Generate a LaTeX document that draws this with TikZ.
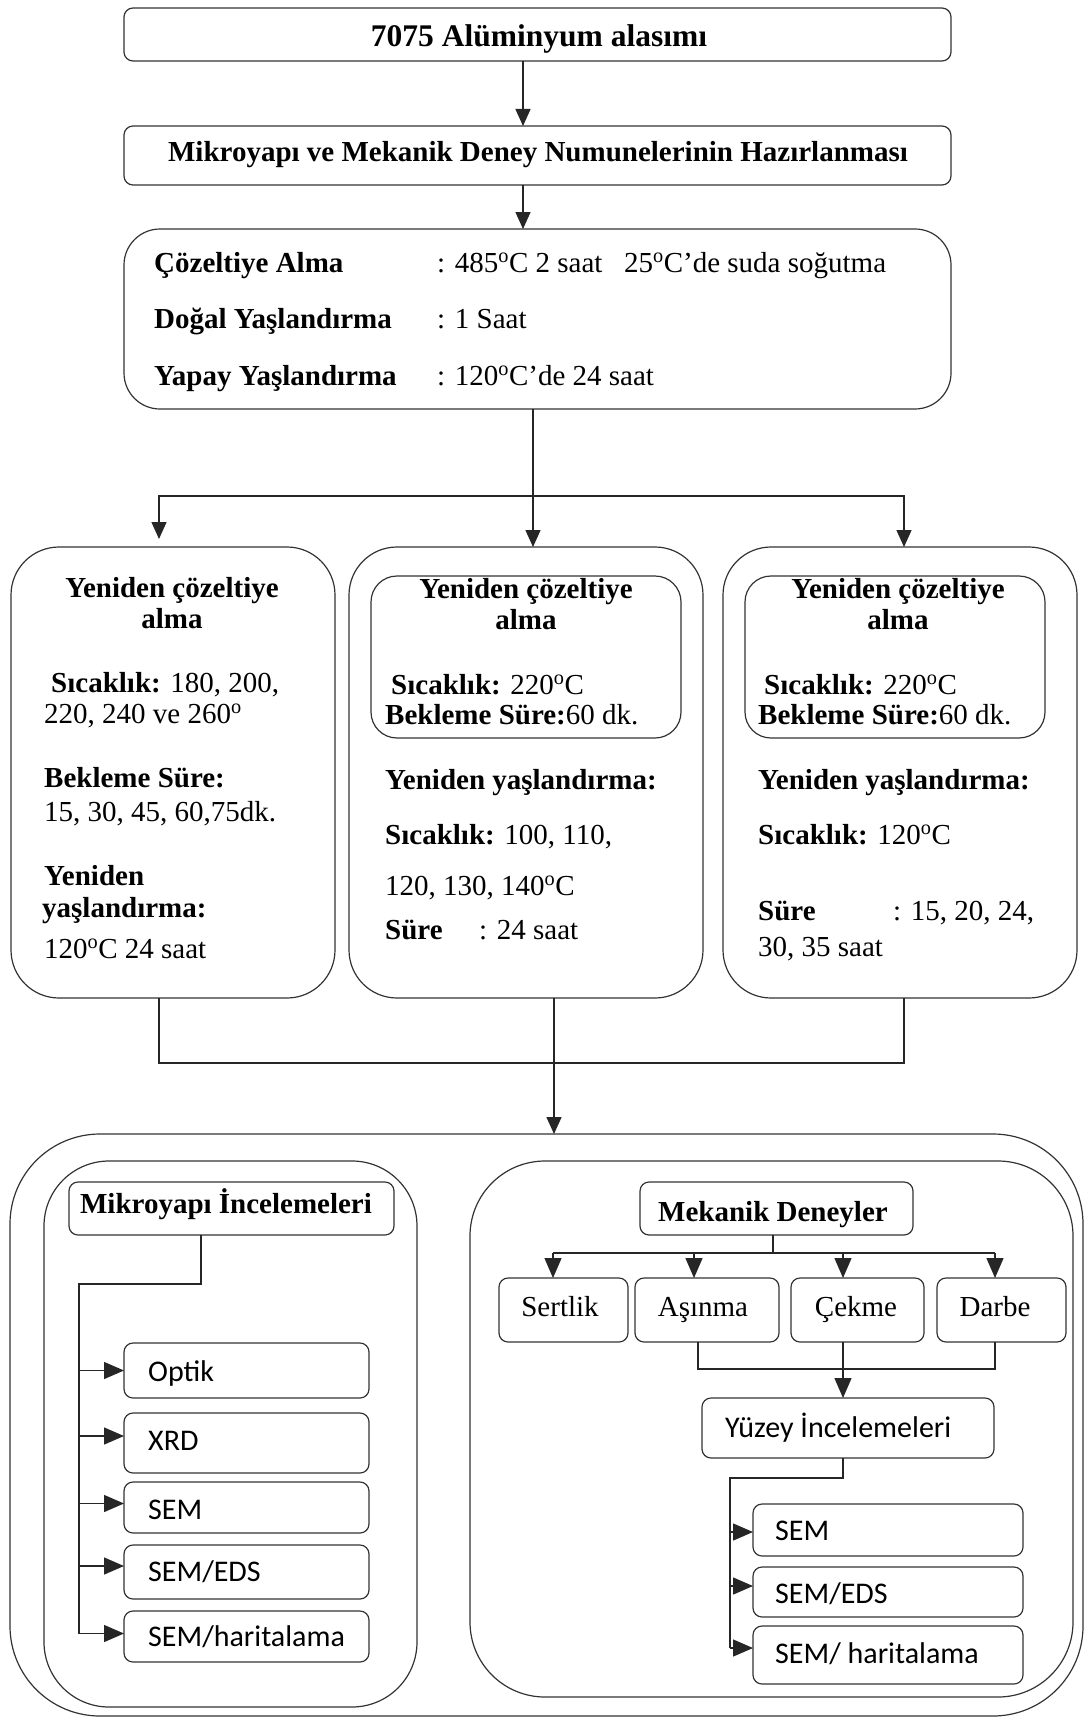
\documentclass[tikz,border=0pt]{standalone}
\usepackage{fontspec}
\setmainfont{Liberation Serif}
\newfontfamily\calibrifont{Carlito}
\usetikzlibrary{arrows.meta}
\newcommand\myfs{\fontsize{29}{33}\selectfont}
\newcommand\mycfs{\calibrifont\fontsize{30}{34}\selectfont}
\newcommand\dg{\textsuperscript{o}}
\tikzset{
  bx/.style={draw=black!80, line width=1.2pt, inner sep=0pt, outer sep=0pt, rounded corners=#1},
  bx/.default=9pt,
  ln/.style={draw=black!85, line width=1.4pt},
  arr/.style={ln, -{Triangle[length=17pt,width=15pt]}},
  sarr/.style={ln, -{Triangle[length=20pt,width=17pt]}},
  tx/.style={inner sep=0pt, anchor=base west, font=\myfs},
  tb/.style={inner sep=0pt, anchor=base west, font=\myfs\bfseries},
  tc/.style={inner sep=0pt, anchor=base, font=\myfs},
  tcb/.style={inner sep=0pt, anchor=base, font=\myfs\bfseries},
  cx/.style={inner sep=0pt, anchor=base west, font=\mycfs},
}
\newcommand\mybox[6]{\node[bx=#6, minimum width={#4-#2}, minimum height={#5-#3}] (#1) at ({(#2+#4)/2},{(#3+#5)/2}) {};}
\begin{document}
\begin{tikzpicture}[x=1pt,y=-1pt]
\useasboundingbox (0,0) rectangle (1085,1718);
% ---------- boxes
\mybox{b1}{124}{8}{951}{61}{9}
\mybox{b2}{124}{126}{951}{185}{9}
\mybox{b3}{124}{229}{951}{409}{36}
\mybox{bL}{11}{547}{335}{998}{48}
\mybox{bM}{349}{547}{703}{998}{48}
\mybox{bR}{723}{547}{1077}{998}{48}
\mybox{iM}{371}{576}{681}{738}{26}
\mybox{iR}{745}{576}{1045}{738}{26}
\mybox{outer}{10}{1134}{1083}{1716}{90}
\mybox{inL}{44}{1161}{417}{1707}{65}
\mybox{inR}{470}{1161}{1073}{1697}{75}
\mybox{mik}{69}{1182}{394}{1235}{9}
\mybox{opt}{124}{1343}{369}{1398}{9}
\mybox{xrd}{124}{1413}{369}{1473}{9}
\mybox{sem}{124}{1482}{369}{1533}{9}
\mybox{eds}{124}{1545}{369}{1599}{9}
\mybox{hm}{124}{1611}{369}{1662}{9}
\mybox{mek}{640}{1182}{913}{1235}{9}
\mybox{ser}{499}{1278}{628}{1342}{9}
\mybox{asi}{635}{1278}{779}{1342}{9}
\mybox{cek}{791}{1278}{924}{1342}{9}
\mybox{dar}{937}{1278}{1066}{1342}{9}
\mybox{yuz}{702}{1398}{994}{1458}{9}
\mybox{semr}{753}{1504}{1023}{1556}{9}
\mybox{edsr}{753}{1567}{1023}{1617}{9}
\mybox{hmr}{753}{1626}{1023}{1684}{9}
% ---------- texts
\node[tcb, font=\fontsize{31.5}{35}\selectfont\bfseries] (t1) at (539,47) {7075 Alüminyum alasımı};
\node[tcb] (t2) at (538,161) {Mikroyapı ve Mekanik Deney Numunelerinin Hazırlanması};
\node[tb] (l1) at (154,272) {Çözeltiye Alma};
\node[tx] (v1) at (437,272) {: 485\dg C 2 saat};
\node[tx] (v1b) at (624,272) {25\dg C’de suda soğutma};
\node[tb] (l2) at (154,328) {Doğal Yaşlandırma};
\node[tx] (v2) at (437,328) {: 1 Saat};
\node[tb] (l3) at (154,385) {Yapay Yaşlandırma};
\node[tx] (v3) at (437,385) {: 120\dg C’de 24 saat};
% left column box
\node[tcb] (a1) at (172,597) {Yeniden çözeltiye};
\node[tcb] (a2) at (172,628) {alma};
\node[tx] (a3) at (51,692) {\bfseries Sıcaklık:\mdseries{} 180, 200,};
\node[tx] (a4) at (44,723) {220, 240 ve 260\dg};
\node[tb] (a5) at (44,787) {Bekleme Süre:};
\node[tx] (a6) at (44,821) {15, 30, 45, 60,75dk.};
\node[tb] (a7) at (44,885) {Yeniden};
\node[tb] (a8) at (42,917) {yaşlandırma:};
\node[tx] (a9) at (44,958) {120\dg C 24 saat};
% middle box
\node[tcb] (m1t) at (526,598) {Yeniden çözeltiye};
\node[tcb] (m2t) at (526,629) {alma};
\node[tx] (m3t) at (391,694) {\bfseries Sıcaklık:\mdseries{} 220\dg C};
\node[tx] (m4t) at (385,724) {\bfseries Bekleme Süre:\mdseries 60 dk.};
\node[tb] (m5t) at (385,789) {Yeniden yaşlandırma:};
\node[tx] (m6t) at (385,844) {\bfseries Sıcaklık:\mdseries{} 100, 110,};
\node[tx] (m7t) at (385,895) {120, 130, 140\dg C};
\node[tb] (m8t) at (385,939) {Süre};
\node[tx] (m9t) at (479,939) {: 24 saat};
% right box
\node[tcb] (r1t) at (898,598) {Yeniden çözeltiye};
\node[tcb] (r2t) at (898,629) {alma};
\node[tx] (r3t) at (764,694) {\bfseries Sıcaklık:\mdseries{} 220\dg C};
\node[tx] (r4t) at (758,724) {\bfseries Bekleme Süre:\mdseries 60 dk.};
\node[tb] (r5t) at (758,789) {Yeniden yaşlandırma:};
\node[tx] (r6t) at (758,844) {\bfseries Sıcaklık:\mdseries{} 120\dg C};
\node[tb] (r7t) at (758,920) {Süre};
\node[tx] (r8t) at (893,920) {: 15, 20, 24,};
\node[tx] (r9t) at (758,956) {30, 35 saat};
% bottom section
\node[tcb] (mikt) at (226,1213) {Mikroyapı İncelemeleri};
\node[cx] (optt) at (148,1381) {Optik};
\node[cx] (xrdt) at (148,1450) {XRD};
\node[cx] (semt) at (148,1519) {SEM};
\node[cx] (edst) at (148,1581) {SEM/EDS};
\node[cx] (hmt) at (148,1646) {SEM/haritalama};
\node[tcb] (mekt) at (773,1221) {Mekanik Deneyler};
\node[tc] (sert) at (560,1316) {Sertlik};
\node[tc] (asit) at (703,1316) {Aşınma};
\node[tc] (cekt) at (856,1316) {Çekme};
\node[tc] (dart) at (995,1316) {Darbe};
\node[cx] (yuzt) at (725,1437) {Yüzey İncelemeleri};
\node[cx] (semrt) at (775,1540) {SEM};
\node[cx] (edsrt) at (775,1603) {SEM/EDS};
\node[cx] (hmrt) at (775,1663) {SEM/ haritalama};
% ---------- connectors, top
\draw[arr] ([xshift=-14.5pt]b1.south) -- ([xshift=-14.5pt]b1.south |- b2.north);
\draw[arr] ([xshift=-14.5pt]b2.south) -- ([xshift=-14.5pt]b2.south |- b3.north);
\coordinate (j1) at (533,496);
\draw[arr] (b3.south -| j1) -- (bM.north -| j1);
\draw[arr] (j1) -| ([xshift=-14pt,yshift=8pt]bL.north);
\draw[arr] (j1) -| ([xshift=4pt]bR.north);
\coordinate (j2) at (554,1063);
\draw[ln] ([xshift=-14pt]bL.south) |- (j2);
\draw[ln] ([xshift=4pt]bR.south) |- (j2);
\draw[arr] (bM.south -| j2) -- (outer.north -| j2);
% lower left
\coordinate (k1) at (79,1284);
\foreach \n/\s in {opt/0,xrd/7,sem/4,eds/6,hm/3}{
  \path ([yshift=\s pt]\n.west) coordinate (a\n);
  \draw[sarr] (k1 |- a\n) -- (a\n);
}
\draw[ln] ([xshift=-30.5pt]mik.south) |- (k1) -- (k1 |- ahm);
% lower right
\coordinate (q1) at (773,1253);
\draw[ln] ([xshift=-3.5pt]mek.south) -- (q1);
\foreach \n/\s in {ser/-10.5,asi/-13,cek/-14.5,dar/-6.5}{
  \path ([xshift=\s pt]\n.north) coordinate (t\n);
  \draw[sarr] (t\n |- q1) -- (t\n);
}
\draw[ln] (tser |- q1) -- (tdar |- q1);
\coordinate (q2) at (843,1369);
\draw[ln] ([xshift=-9pt]asi.south) |- (q2) -| ([xshift=-6.5pt]dar.south);
\draw[sarr] ([xshift=-14.5pt]cek.south) -- ([xshift=-14.5pt]cek.south |- yuz.north);
\coordinate (q3) at (730,1478);
\foreach \n/\s in {semr/-2,edsr/6,hmr/7}{
  \path ([yshift=\s pt]\n.west) coordinate (a\n);
  \draw[sarr] (q3 |- a\n) -- (a\n);
}
\draw[ln] ([xshift=-5pt]yuz.south) |- (q3) -- (q3 |- ahmr);
\end{tikzpicture}
\end{document}
